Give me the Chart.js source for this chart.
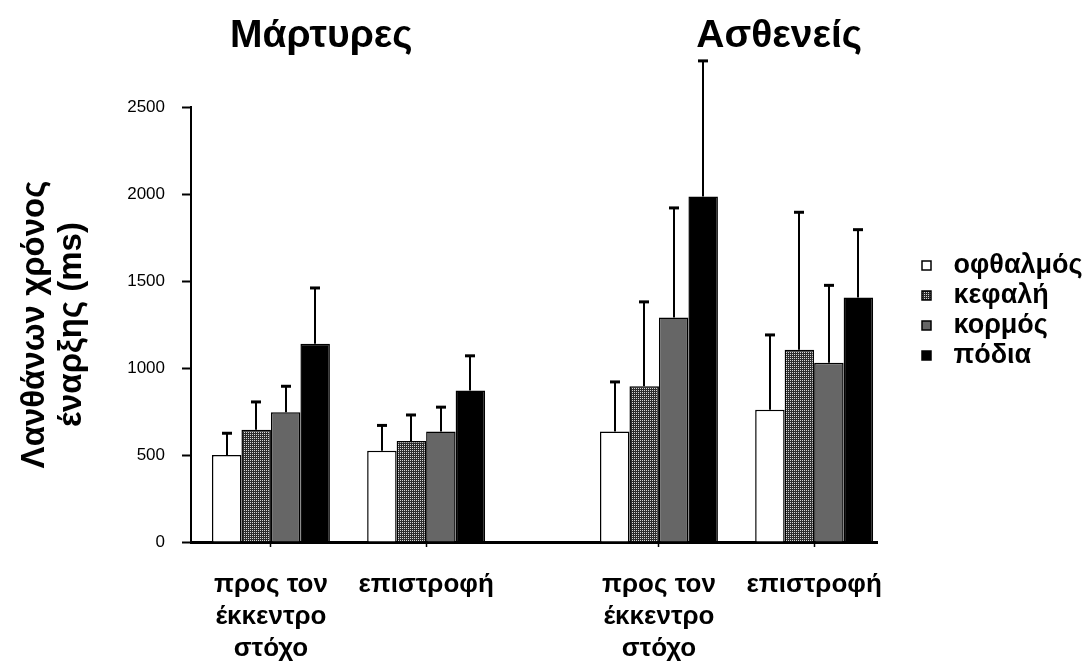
<!DOCTYPE html>
<html>
<head>
<meta charset="utf-8">
<style>
  html, body { margin: 0; padding: 0; background: #ffffff; }
  #wrap { width: 1090px; height: 666px; }
</style>
<script src="https://cdn.jsdelivr.net/npm/chart.js@4.4.1/dist/chart.umd.min.js"></script>
</head>
<body>
<div id="wrap"><canvas id="chart" width="1090" height="666"></canvas></div>
<script>
// Condition labels (one entry per group of bars) and where each group sits on the x axis
const categories = [
  ['προς τον', 'έκκεντρο', 'στόχο'],
  ['επιστροφή'],
  ['προς τον', 'έκκεντρο', 'στόχο'],
  ['επιστροφή']
];
const categoryPos = [0, 2, 5, 7];
const panelTitles = ['Μάρτυρες', 'Ασθενείς'];

// Mean onset latency (ms) per body part, with the standard deviation shown as an upper error bar
const seriesNames = ['οφθαλμός', 'κεφαλή', 'κορμός', 'πόδια'];
const ofthalmos   = [500, 525, 635, 760];
const ofthalmosSD = [125, 145, 285, 430];
const kefali      = [645, 580, 895, 1105];
const kefaliSD    = [160, 150, 485, 790];
const kormos      = [745, 635, 1290, 1030];
const kormosSD    = [150, 140, 630, 445];
const podia       = [1140, 870, 1985, 1405];
const podiaSD     = [320, 200, 780, 390];

const yTicks = [0, 500, 1000, 1500, 2000, 2500];
const yTitle = ['Λανθάνων χρόνος', 'έναρξης (ms)'];

const FONT = '"Liberation Sans", Arial, Helvetica, sans-serif';
Chart.defaults.font.family = FONT;
Chart.defaults.color = '#000000';

const canvas = document.getElementById('chart');
const ctx = canvas.getContext('2d');

// fine dotted fill used for the second series
function dottedFill() {
  const tile = document.createElement('canvas');
  tile.width = 2; tile.height = 2;
  const t = tile.getContext('2d');
  t.fillStyle = '#2c2c2c';
  t.fillRect(0, 0, 2, 2);
  t.fillStyle = '#d6d6d6';
  t.fillRect(0, 0, 1, 1);
  return ctx.createPattern(tile, 'repeat');
}

const fills = ['#ffffff', dottedFill(), '#666666', '#000000'];
const means = [ofthalmos, kefali, kormos, podia];
const sds = [ofthalmosSD, kefaliSD, kormosSD, podiaSD];

const datasets = seriesNames.map((name, s) => ({
  label: name,
  data: categoryPos.map((x, i) => ({ x: x, y: means[s][i] })),
  sd: sds[s],
  backgroundColor: fills[s],
  borderColor: '#000000',
  borderWidth: 1.5,
  pointStyle: 'rect'
}));

// upward error bars with a short cap
const errorBars = {
  id: 'errorBars',
  afterDatasetsDraw(chart) {
    const c = chart.ctx;
    const y = chart.scales.y;
    chart.data.datasets.forEach((ds, i) => {
      const meta = chart.getDatasetMeta(i);
      meta.data.forEach((bar, j) => {
        const top = y.getPixelForValue(ds.data[j].y + ds.sd[j]);
        const x = Math.round(bar.x);
        c.save();
        c.strokeStyle = '#000000';
        c.lineWidth = 2;
        c.beginPath();
        c.moveTo(x, bar.y);
        c.lineTo(x, top);
        c.stroke();
        c.lineWidth = 3;
        c.beginPath();
        c.moveTo(x - 5, top);
        c.lineTo(x + 5, top);
        c.stroke();
        c.restore();
      });
    });
  }
};

// one heading above each half of the chart
const panelHeadings = {
  id: 'panelHeadings',
  afterDraw(chart, args, opts) {
    const c = chart.ctx;
    const x = chart.scales.x;
    c.save();
    c.font = opts.font;
    c.fillStyle = '#000000';
    c.textAlign = 'center';
    c.textBaseline = 'alphabetic';
    opts.texts.forEach((t, i) => c.fillText(t, x.getPixelForValue(opts.anchors[i]), opts.baseline));
    c.restore();
  }
};

// legend sits in the right margin, beside the bars
const legendPlacement = {
  id: 'legendPlacement',
  afterLayout(chart, args, opts) {
    const lg = chart.legend;
    if (!lg) return;
    const w = lg.width, h = lg.height;
    lg.left = opts.left;
    lg.right = opts.left + w;
    lg.top = opts.top;
    lg.bottom = opts.top + h;
  }
};

new Chart(ctx, {
  type: 'bar',
  data: { datasets: datasets },
  plugins: [errorBars, panelHeadings, legendPlacement],
  options: {
    responsive: false,
    animation: false,
    events: [],
    layout: { padding: { top: 107, right: 213, bottom: 0, left: 0 } },
    barPercentage: 1,
    categoryPercentage: 0.76,
    scales: {
      x: {
        type: 'linear',
        offset: false,
        min: -1.03,
        max: 7.81,
        afterBuildTicks(scale) { scale.ticks = categoryPos.map(v => ({ value: v })); },
        afterFit(scale) { scale.height = 124; },
        ticks: {
          autoSkip: false,
          maxRotation: 0,
          minRotation: 0,
          padding: 22,
          font: { size: 26, weight: 'bold', lineHeight: 1.23 },
          color: '#000000',
          callback(value, index) { return categories[index]; }
        },
        grid: { offset: false, drawOnChartArea: false, drawTicks: true, tickLength: 5, tickWidth: 1.5, tickColor: '#000000' },
        border: { display: true, color: '#000000', width: 3 }
      },
      y: {
        min: 0,
        max: 2500,
        afterBuildTicks(scale) { scale.ticks = yTicks.map(v => ({ value: v })); },
        afterFit(scale) { scale.width = 191; },
        ticks: { padding: 17, font: { size: 17 }, color: '#000000', callback(value) { return String(value); } },
        grid: { drawOnChartArea: false, drawTicks: true, tickLength: 9, tickWidth: 2, tickColor: '#000000' },
        border: { display: true, color: '#000000', width: 2 },
        title: {
          display: true,
          text: yTitle,
          font: { size: 33, weight: 'bold', lineHeight: 1.12 },
          color: '#000000',
          padding: { top: 16, bottom: 0 }
        }
      }
    },
    plugins: {
      tooltip: { enabled: false },
      legend: {
        position: 'chartArea',
        align: 'start',
        labels: {
          usePointStyle: true,
          pointStyle: 'rect',
          boxWidth: 27,
          boxHeight: 9,
          padding: 3,
          color: '#000000',
          font: { size: 27, weight: 'bold' }
        }
      },
      legendPlacement: { left: 910, top: 249 },
      panelHeadings: {
        texts: panelTitles,
        anchors: [0.65, 6.55],
        baseline: 47,
        font: 'bold 39px ' + FONT
      }
    }
  }
});
</script>
</body>
</html>
